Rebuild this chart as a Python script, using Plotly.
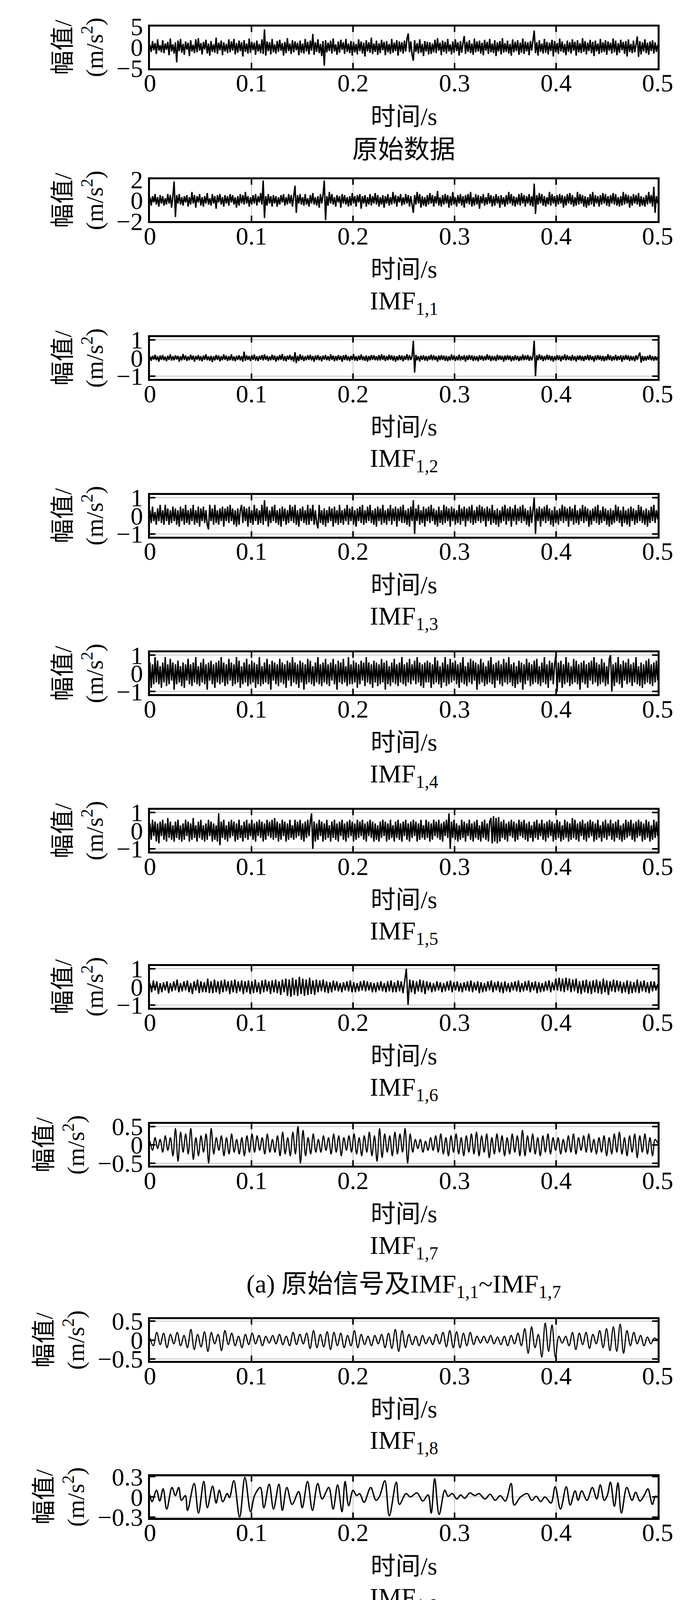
import numpy as np
import plotly.graph_objects as go

# ---------------- data ----------------
# dense signals: samples spread evenly over 0-0.5 s
raw_signal = [
    0.6, -1.1, 1.5, -0.7, 1.0, -1.6, 1.9, -0.8, 0.5, -1.2, 1.7, -1.4, 0.9, -0.6, 1.3, -1.9, 2.1, -1.0, 0.7, -1.5,
    1.2, -3.6, 1.6, -0.9, 2.0, -1.3, 0.8, -1.8, 1.4, -0.6, 1.1, -2.1, 1.7, -1.0, 0.6, -1.4, 1.9, -1.2, 2.2, -0.8,
    1.0, -1.7, 1.3, -0.5, 1.8, -1.5, 0.9, -2.0, 1.5, -1.1, 0.7, -1.3, 2.3, -1.6, 1.1, -0.7, 1.6, -1.9, 1.2, -1.0,
    0.8, -1.4, 1.9, -1.2, 1.4, -0.8, 2.0, -1.7, 1.0, -1.3, 1.6, -0.9, 1.2, -2.2, 1.7, -1.1, 0.9, -1.5, 2.1, -1.3,
    1.3, -0.7, 1.1, -1.8, 1.6, -1.0, 0.8, -1.4, 1.9, -1.6, 4.3, -2.0, 1.4, -0.9, 1.2, -1.7, 2.0, -1.2, 0.7, -1.5,
    1.5, -1.1, 1.8, -0.8, 1.0, -2.0, 1.3, -1.4, 2.2, -0.9, 0.9, -1.6, 1.7, -1.2, 1.4, -0.7, 1.1, -1.9, 1.6, -1.3,
    0.9, -1.5, 2.0, -1.0, 1.3, -1.7, 1.6, -0.8, 3.2, -1.8, 1.2, -1.1, 1.9, -1.4, 0.8, -2.1, 1.5, -4.4, 1.7, -1.2,
    1.1, -0.9, 1.6, -1.5, 2.1, -1.0, 0.7, -1.8, 1.4, -1.3, 1.8, -0.6, 1.2, -1.6, 2.0, -1.1, 0.9, -1.4, 1.5, -2.0,
    1.3, -1.2, 0.8, -1.7, 1.9, -0.9, 1.4, -1.5, 1.1, -2.2, 1.7, -1.0, 1.2, -1.3, 2.3, -1.6, 0.9, -1.1, 1.6, -1.8,
    1.0, -1.4, 1.8, -0.7, 1.3, -1.9, 1.5, -1.2, 0.8, -1.6, 2.0, -1.3, 1.1, -0.9, 1.7, -2.0, 1.4, -1.1, 1.2, -1.5,
    1.6, -1.0, 2.1, 3.3, -1.2, 1.4, -1.8, -3.2, 1.7, -1.1, 1.0, -1.5, 1.9, -1.3, 0.8, -2.1, 1.5, -1.0, 1.3, -1.7,
    1.2, -1.6, 0.9, -1.2, 1.8, -1.4, 2.2, -0.8, 1.1, -1.9, 1.6, -1.1, 1.3, -1.5, 2.0, -1.0, 0.7, -1.7, 1.4, -1.3,
    1.9, -0.9, 1.2, -2.0, 1.5, -1.3, 1.0, 2.7, -1.6, 1.3, -1.1, 1.7, -1.4, 0.9, -1.8, 2.1, -1.2, 1.4, -1.0, 1.6,
    -1.5, 1.1, -1.9, 1.8, -0.8, 1.3, -1.6, 2.0, -1.2, 0.9, -1.4, 1.7, -2.1, 1.2, -1.0, 1.5, -1.7, 2.2, -1.3, 1.0,
    -1.1, 1.6, -1.5, 0.8, -2.0, 1.9, -1.2, 1.3, -0.9, 1.7, -1.8, 1.1, -1.3, 2.1, -1.6, 1.4, -1.0, 1.2, -1.9, 1.5,
    -0.8, 1.6, 4.0, -1.4, 1.2, -2.0, 1.7, -1.1, 0.9, -1.5, 2.0, -1.3, 1.3, -1.7, 1.1, -0.9, 1.8, -2.2, 1.5, -1.2,
    1.0, -1.6, 2.1, -1.0, 1.4, -1.3, 0.8, -1.9, 1.6, -1.1, 1.2, -1.5, 1.9, -0.8, 1.3, -2.0, 1.7, -1.2, 1.0, -1.4,
    2.2, -1.1, 1.5, -1.7, 1.1, -0.9, 1.8, -1.4, 1.3, -2.1, 1.6, -1.0, 0.9, -1.6, 2.0, -1.3, 1.2, -1.1, 1.7, -1.8,
    1.4, -0.8, 1.1, -1.5, 2.1, -1.2, 1.6, -1.9, 1.0, -1.3, 1.8, -0.7, 1.3, -1.6, 1.5, -2.2, 1.9, -1.1, 0.8, -1.4,
    1.6, -1.2, 1.0, 2.6, -2.3, 1.5, -1.7, 1.2, -1.0, 1.9, -1.4, 1.1, -1.8, 1.4, -0.9, 1.7, -1.5, 1.2, -1.1, 0.6,
]

imf1_1 = [
    0.3, -0.5, 0.4, -0.2, 0.6, -0.4, 0.3, -0.6, 0.5, -0.3, 0.4, -0.5, 0.2, -0.4, 0.6, -0.3, 0.5, -0.7, 0.4, 1.8,
    -1.6, 0.5, -0.3, 0.6, -0.4, 0.3, -0.5, 0.4, -0.2, 0.5, -0.6, 0.3, -0.4, 0.8, -0.3, 0.5, -0.7, 0.4, -0.2, 0.6,
    -0.5, 0.3, -0.6, 0.4, -0.3, 0.7, -0.4, 0.2, -0.5, 0.6, -0.3, 0.4, -0.8, 0.5, -0.2, 0.6, -0.4, 0.3, -0.6, 0.5,
    -0.3, 0.4, -0.5, 0.6, -0.2, 0.5, -0.4, 0.3, -0.7, 0.4, -0.5, 0.6, -0.3, 0.5, -0.4, 0.8, -0.3, 0.4, -0.6, 0.3,
    -0.4, 0.5, -0.3, 0.6, -0.5, 0.4, -0.2, 0.7, -0.4, 1.9, -1.7, 0.4, -0.5, 0.6, -0.3, 0.4, -0.6, 0.5, -0.3, 0.4,
    -0.6, 0.3, -0.4, 0.5, -0.2, 0.6, -0.5, 0.3, -0.4, 0.6, -0.3, 0.5, -0.6, 0.4, 1.4, -1.2, 0.5, -0.3, 0.6, -0.4,
    0.3, -0.5, 0.6, -0.4, 0.2, -0.6, 0.5, -0.3, 0.7, -0.4, 0.3, -0.5, 0.4, -0.7, 0.6, -0.3, 0.5, 1.9, -1.9, 0.4,
    -0.5, 0.8, -0.3, 0.6, -0.4, 0.3, -0.6, 0.5, -0.2, 0.4, -0.7, 0.6, -0.3, 0.5, -0.4, 0.3, -0.6, 0.4, -0.5, 0.7,
    -0.3, 0.4, -0.6, 0.5, -0.2, 0.6, -0.8, 0.4, -0.3, 0.5, -0.6, 0.3, -0.4, 0.6, -0.5, 0.4, -0.3, 0.7, -0.4, 0.5,
    -0.6, 0.3, -0.4, 0.5, -0.7, 0.4, -0.3, 0.6, -0.5, 0.3, -0.4, 0.8, -0.3, 0.5, -0.6, 0.4, -0.2, 0.6, -0.5, 0.3,
    -0.4, 0.6, -0.3, 0.5, -0.6, 0.4, -0.5, -1.2, 0.5, -0.4, 0.8, -0.3, 0.6, -0.7, 0.4, -0.5, 0.3, -0.6, 0.5, -0.4,
    0.7, -0.3, 0.5, -0.6, 0.4, -0.3, 0.9, -0.5, 0.3, -0.6, 0.5, -0.4, 0.6, -0.3, 0.5, -0.7, 0.4, -0.5, 0.8, -0.4,
    0.3, -0.6, 0.5, -0.3, 0.6, -0.5, 0.4, -0.7, 0.5, -0.3, 0.6, -0.4, 0.8, -0.6, 0.3, -0.5, 0.6, -0.4, 0.5, -0.8,
    0.4, -0.3, 0.6, -0.5, 0.3, -0.4, 0.7, -0.3, 0.5, -0.6, 0.4, -0.5, 0.6, -0.3, 0.4, -0.7, 0.5, -0.4, 0.3, -0.6,
    0.5, -0.4, 0.8, -0.3, 0.6, -0.5, 0.4, -0.6, 0.3, -0.4, 0.6, -0.5, 0.7, -0.3, 0.5, -0.6, 0.4, -0.3, 0.6, -0.5,
    0.4, -0.6, 1.6, -1.3, 0.5, -0.4, 0.7, -0.3, 0.6, -0.5, 0.4, -0.6, 0.3, -0.4, 0.8, -0.5, 0.6, -0.3, 0.4, -0.6,
    0.5, -0.4, 0.6, -0.3, 0.5, -0.7, 0.4, -0.5, 0.6, -0.3, 0.7, -0.4, 0.5, -0.6, 0.3, -0.5, 0.8, -0.4, 0.6, -0.3,
    0.5, -0.6, 0.4, -0.7, 0.3, -0.5, 0.6, -0.4, 0.8, -0.6, 0.5, -0.3, 0.4, -0.6, 0.5, -0.4, 0.7, -0.3, 0.6, -0.5,
    0.4, -0.6, 0.5, -0.3, 0.7, -0.4, 0.6, -0.5, 0.3, -0.6, 0.4, -0.5, 0.8, -0.4, 0.6, -0.3, 0.5, -0.7, 0.4, -0.5,
    0.6, -0.3, 0.5, -0.4, 0.7, -0.6, 0.4, -0.5, 0.3, -0.6, 0.5, -0.4, 0.8, -0.3, 0.5, -0.6, 1.3, -1.2, 0.4, -0.3,
]

imf1_2 = [
    0.1, -0.15, 0.12, -0.08, 0.18, -0.12, 0.1, -0.2, 0.14, -0.1, 0.16, -0.12, 0.08, -0.18, 0.12, -0.1, 0.2, -0.14, 0.1, -0.12,
    0.15, -0.08, 0.12, -0.2, 0.1, -0.13, 0.22, -0.1, 0.14, -0.16, 0.09, -0.12, 0.18, -0.1, 0.13, -0.2, 0.11, -0.09, 0.16, -0.14,
    0.1, -0.18, 0.14, -0.1, 0.2, -0.12, 0.09, -0.15, 0.12, -0.22, 0.1, -0.13, 0.17, -0.1, 0.14, -0.18, 0.1, -0.12, 0.2, -0.1,
    0.13, -0.16, 0.1, -0.12, 0.2, -0.14, 0.09, -0.18, 0.12, -0.1, 0.15, -0.13, 0.1, -0.2, 0.35, -0.15, 0.14, -0.1, 0.11, -0.17,
    0.15, -0.1, 0.19, -0.14, 0.1, -0.17, 0.12, -0.09, 0.16, -0.13, 0.2, -0.1, 0.12, -0.16, 0.09, -0.12, 0.18, -0.11, 0.14, -0.2,
    0.1, -0.13, 0.16, -0.1, 0.22, -0.15, 0.11, -0.18, 0.13, -0.09, 0.17, -0.12, 0.1, -0.2, 0.32, -0.28, 0.12, -0.16, 0.2, -0.11,
    0.13, -0.17, 0.1, -0.12, 0.15, -0.1, 0.18, -0.13, 0.11, -0.2, 0.14, -0.1, 0.16, -0.12, 0.1, -0.18, 0.13, -0.09, 0.17, -0.12,
    0.1, -0.15, 0.2, -0.1, 0.13, -0.18, 0.11, -0.14, 0.16, -0.1, 0.12, -0.2, 0.15, -0.11, 0.18, -0.13, 0.1, -0.16, 0.12, -0.1,
    0.22, -0.14, 0.1, -0.17, 0.13, -0.11, 0.19, -0.12, 0.1, -0.15, 0.14, -0.2, 0.11, -0.13, 0.17, -0.1, 0.15, -0.12, 0.1, -0.14,
    0.16, -0.13, 0.2, -0.1, 0.14, -0.17, 0.11, -0.12, 0.18, -0.1, 0.15, -0.14, 0.12, -0.2, 0.1, -0.13, 0.16, -0.11, 0.14, -0.18,
    0.12, -0.1, 0.2, -0.13, 0.16, -0.11, 0.1, 0.95, -0.8, 0.17, -0.12, 0.1, -0.19, 0.13, -0.1, 0.15, -0.14, 0.11, -0.17, 0.12,
    -0.1, 0.18, -0.13, 0.15, -0.11, 0.1, -0.2, 0.14, -0.12, 0.16, -0.1, 0.13, -0.15, 0.12, -0.18, 0.1, -0.13, 0.2, -0.11, 0.14,
    -0.16, 0.1, -0.12, 0.18, -0.14, 0.11, -0.1, 0.15, -0.2, 0.13, -0.11, 0.17, -0.1, 0.14, -0.16, 0.12, -0.13, 0.1, -0.18, 0.15,
    -0.1, 0.13, -0.15, 0.11, -0.12, 0.2, -0.1, 0.14, -0.17, 0.12, -0.13, 0.1, -0.16, 0.18, -0.11, 0.14, -0.1, 0.12, -0.2, 0.13,
    -0.12, 0.16, -0.1, 0.13, -0.18, 0.1, -0.14, 0.15, -0.11, 0.12, -0.17, 0.1, -0.13, 0.19, -0.12, 0.14, -0.1, 0.16, -0.15, 0.11,
    -0.13, 0.1, 0.95, -1.0, 0.16, -0.12, 0.2, -0.1, 0.14, -0.17, 0.11, -0.12, 0.18, -0.1, 0.15, -0.14, 0.12, -0.2, 0.1, -0.13,
    0.16, -0.11, 0.14, -0.18, 0.12, -0.1, 0.2, -0.13, 0.16, -0.11, 0.1, -0.15, 0.17, -0.12, 0.1, -0.19, 0.13, -0.1, 0.15, -0.14,
    0.11, -0.17, 0.12, -0.1, 0.18, -0.13, 0.15, -0.11, 0.1, -0.2, 0.14, -0.12, 0.16, -0.1, 0.13, -0.15, 0.12, -0.18, 0.1, -0.13,
    0.2, -0.11, 0.14, -0.16, 0.1, -0.12, 0.18, -0.14, 0.11, -0.1, 0.15, -0.2, 0.13, -0.11, 0.17, -0.1, 0.14, -0.16, 0.12, -0.13,
    0.1, -0.18, 0.15, -0.1, 0.13, 0.3, -0.25, 0.12, -0.16, 0.1, -0.14, 0.12, -0.1, 0.17, -0.13, 0.11, -0.15, 0.1, -0.12, 0.08,
]

imf1_3 = [
    0.3, -0.4, 0.5, -0.3, 0.2, -0.5, 0.4, -0.3, 0.6, -0.4, 0.3, -0.5, 0.6, -0.3, 0.4, -0.5, 0.3, -0.4, 0.5, -0.3,
    0.4, -0.5, 0.3, -0.6, 0.5, -0.3, 0.4, -0.5, 0.6, -0.4, 0.3, -0.5, 0.4, -0.3, 0.6, -0.5, 0.3, -0.4, 0.5, -0.6,
    0.4, -0.3, 0.5, -0.4, 0.3, -0.5, -0.75, 0.6, -0.3, 0.4, -0.5, 0.6, -0.4, 0.3, -0.5, 0.4, -0.3, 0.5, -0.6, 0.4,
    -0.3, 0.5, -0.4, 0.6, -0.3, 0.4, -0.5, 0.3, -0.6, 0.4, -0.5, 0.3, 0.6, -0.4, 0.5, -0.3, 0.4, -0.6, 0.5, -0.4,
    0.3, -0.5, 0.6, -0.3, 0.4, -0.5, 0.3, -0.4, 0.6, -0.5, 0.85, -0.3, 0.5, -0.6, 0.3, -0.4, 0.5, -0.3, 0.6, -0.4,
    0.3, -0.5, 0.4, -0.6, 0.5, -0.3, 0.4, -0.5, 0.3, -0.4, 0.6, -0.3, 0.5, -0.4, 0.6, -0.5, 0.3, -0.6, 0.4, -0.3,
    0.5, -0.4, 0.3, -0.5, 0.6, -0.5, 0.4, -0.3, 0.6, -0.5, 0.3, -0.4, -0.7, 0.6, -0.4, 0.3, -0.5, 0.4, -0.6, 0.3,
    -0.4, 0.5, -0.3, 0.4, -0.6, 0.5, -0.4, 0.3, -0.5, 0.6, -0.4, 0.3, -0.5, 0.4, -0.3, 0.6, -0.5, 0.4, -0.3, 0.5,
    -0.5, 0.3, -0.6, 0.4, -0.3, 0.5, -0.4, 0.6, -0.5, 0.3, -0.4, 0.5, -0.3, 0.6, -0.4, 0.3, -0.5, 0.4, -0.6, 0.5,
    -0.3, 0.4, -0.5, 0.6, -0.4, 0.3, -0.5, 0.4, -0.3, 0.6, -0.5, 0.4, -0.3, 0.5, -0.6, 0.4, -0.3, 0.5, -0.4, 0.6,
    -0.4, 0.3, -0.5, 0.4, -0.6, 0.5, -0.3, 0.85, -1.0, 0.4, -0.3, 0.6, -0.5, 0.3, -0.4, 0.5, -0.6, 0.4, -0.3, 0.5,
    -0.4, 0.6, -0.3, 0.4, -0.5, 0.3, -0.6, 0.5, -0.4, 0.3, -0.5, 0.6, -0.4, 0.5, -0.3, 0.4, -0.6, 0.5, -0.3, 0.4,
    -0.5, 0.3, -0.4, 0.6, -0.5, 0.4, -0.3, 0.5, -0.6, 0.4, -0.3, 0.5, -0.4, 0.6, -0.5, 0.3, -0.4, 0.5, -0.3, 0.6,
    -0.4, 0.5, -0.3, 0.4, -0.6, 0.5, -0.3, 0.4, -0.5, 0.6, -0.4, 0.3, -0.5, 0.4, -0.6, 0.3, -0.4, 0.5, -0.3, 0.6,
    -0.5, 0.4, -0.3, 0.5, -0.6, 0.4, -0.3, 0.6, -0.5, 0.4, -0.3, 0.5, -0.4, 0.6, -0.3, 0.4, -0.5, 0.3, -0.6, 0.5,
    -0.4, 0.3, 1.0, -1.0, 0.4, -0.3, 0.5, -0.6, 0.4, -0.3, 0.5, -0.4, 0.6, -0.3, 0.4, -0.5, 0.3, -0.6, 0.5, -0.4,
    0.3, -0.5, 0.4, -0.3, 0.6, -0.4, 0.5, -0.3, 0.4, -0.6, 0.5, -0.3, 0.4, -0.5, 0.6, -0.4, 0.3, -0.5, 0.4, -0.3,
    0.6, -0.4, 0.5, -0.3, 0.4, -0.6, 0.3, -0.5, 0.4, -0.3, 0.5, -0.4, 0.6, -0.5, 0.3, -0.4, 0.5, -0.3, 0.4, -0.5,
    0.3, -0.6, 0.4, -0.5, 0.3, -0.4, 0.6, -0.3, 0.5, -0.4, 0.3, -0.6, 0.5, -0.4, 0.3, -0.5, 0.4, -0.6, 0.5, -0.3,
    0.4, -0.5, 0.3, -0.4, 0.6, -0.3, 0.5, -0.4, 0.3, -0.5, 0.4, -0.6, 0.3, -0.4, 0.5, -0.3, 0.6, -0.4, 0.3, -0.2,
]

imf1_4 = [
    0.6, -0.8, 0.5, -0.6, 0.9, -0.5, 0.7, -0.6, 0.4, -0.8, 0.6, -0.5, 0.9, -0.7, 0.5, -0.6, 0.8, -0.4, 0.6, -0.9,
    0.5, -0.6, 0.7, -0.5, 0.4, -0.7, 0.6, -0.8, 0.5, -0.4, 0.8, -0.6, 0.5, -0.7, 0.6, -0.5, 0.9, -0.6, 0.4, -0.7,
    0.6, -0.5, 0.8, -0.6, 0.5, -0.9, 0.6, -0.4, 0.7, -0.6, 0.5, -0.8, 0.6, -0.5, 0.7, -0.6, 0.9, -0.5, 0.6, -0.7,
    0.5, -0.6, 0.8, -0.4, 0.6, -0.7, 0.5, -0.6, 0.9, -0.5, 0.7, -0.8, 0.4, -0.6, 0.6, -0.5, 0.8, -0.7, 0.5, -0.6,
    0.7, -0.5, 0.6, -0.8, 0.5, -0.6, 0.9, -0.7, 0.4, -0.6, 0.6, -0.5, 0.8, -0.6, 0.5, -0.9, 0.7, -0.4, 0.6, -0.6,
    0.5, -0.7, 0.8, -0.5, 0.6, -0.6, 0.5, -0.8, 0.7, -0.4, 0.6, -0.7, 0.9, -0.5, 0.6, -0.6, 0.5, -0.8, 0.7, -0.5,
    0.6, -0.9, 0.5, -0.6, 0.8, -0.5, 0.7, -0.6, 0.4, -0.7, 0.6, -0.5, 0.9, -0.6, 0.5, -0.7, 0.6, -0.5, 0.8, -0.6,
    0.5, -0.7, 0.6, -0.4, 0.8, -0.6, 0.5, -0.9, 0.7, -0.5, 0.6, -0.6, 0.8, -0.5, 0.4, -0.7, 0.9, -0.6, 0.5, -0.6,
    0.7, -0.5, 0.6, -0.8, 0.5, -0.6, 0.7, -0.4, 0.6, -0.7, 0.9, -0.5, 0.6, -0.6, 0.5, -0.8, 0.7, -0.5, 0.6, -0.7,
    0.5, -0.6, 0.8, -0.5, 0.6, -0.9, 0.7, -0.6, 0.4, -0.7, 0.6, -0.5, 0.8, -0.6, 0.5, -0.7, 0.6, -0.5, 0.9, -0.6,
    0.5, -0.7, 0.6, -0.5, 0.8, -0.6, 0.5, -0.4, 0.7, -0.6, 0.9, -0.5, 0.6, -0.7, 0.5, -0.8, 0.6, -0.5, 0.7, -0.5,
    0.6, -0.8, 0.5, -0.6, 0.9, -0.5, 0.7, -0.6, 0.4, -0.8, 0.6, -0.5, 0.9, -0.7, 0.5, -0.6, 0.8, -0.5, 0.6, -0.4,
    0.7, -0.6, 0.5, -0.8, 0.6, -0.5, 0.9, -0.6, 0.4, -0.7, 0.6, -0.5, 0.8, -0.6, 0.7, -0.4, 0.6, -0.9, 0.5, -0.6,
    0.8, -0.5, 0.6, -0.7, 0.4, -0.6, 0.7, -0.5, 0.9, -0.6, 0.5, -0.8, 0.6, -0.4, 0.7, -0.6, 0.5, -0.7, 0.8, -0.5,
    0.6, -0.6, 0.9, -0.5, 0.5, -0.7, 0.6, -0.8, 0.4, -0.6, 0.7, -0.5, 0.6, -0.9, 0.5, -0.6, 0.8, -0.4, 0.6, -0.7,
    0.5, -0.6, 0.7, -0.5, 0.8, -0.6, 0.4, -0.7, 0.6, -0.5, 0.9, -0.6, 0.5, -0.8, 0.7, -0.4, 0.6, -0.6, 0.5, 1.0,
    -1.0, 0.6, -0.5, 0.7, -0.8, 0.5, -0.6, 0.9, -0.5, 0.6, -0.7, 0.4, -0.6, 0.8, -0.5, 0.7, -0.6, 0.5, -0.9, 0.6,
    -0.5, 0.7, -0.6, 0.5, -0.8, 0.6, -0.4, 0.7, -0.6, 0.9, -0.5, 0.6, -0.7, 0.5, -0.6, 0.8, -0.5, 0.6, -0.7, 0.4,
    -0.6, 0.8, 1.0, -1.0, 0.5, -0.7, 0.6, -0.5, 0.9, -0.6, 0.5, -0.8, 0.7, -0.4, 0.6, -0.6, 0.8, -0.5, 0.5, -0.7,
    0.6, -0.5, 0.9, -0.6, 0.4, -0.7, 0.6, -0.8, 0.5, -0.6, 0.7, -0.5, 0.8, -0.6, 0.5, -0.7, 0.6, -0.5, 0.7, -0.4,
]

imf1_5 = [
    0.4, -0.5, 0.6, -0.3, 0.5, -0.6, 0.4, -0.7, 0.5, -0.3, 0.6, -0.5, 0.4, -0.6, 0.7, -0.4, 0.5, -0.5, 0.3, -0.6,
    0.5, -0.4, 0.6, -0.5, 0.3, -0.6, 0.4, -0.5, 0.6, -0.3, 0.5, -0.6, 0.4, -0.5, 0.7, -0.4, 0.3, -0.6, 0.5, -0.4,
    0.6, -0.5, 0.3, -0.6, 0.4, -0.5, 0.6, -0.3, 0.5, -0.6, 0.4, -0.5, 0.3, -0.6, 0.95, -0.8, 0.5, -0.4, 0.6, -0.5,
    0.3, -0.6, 0.5, -0.4, 0.6, -0.3, 0.5, -0.6, 0.4, -0.5, 0.6, -0.4, 0.3, -0.6, 0.5, -0.4, 0.6, -0.5, 0.4, -0.3,
    0.6, -0.5, 0.4, -0.6, 0.5, -0.3, 0.6, -0.4, 0.5, -0.6, 0.4, -0.5, 0.6, -0.3, 0.5, -0.4, 0.6, -0.5, 0.7, -0.4,
    0.5, -0.6, 0.4, -0.5, 0.6, -0.3, 0.5, -0.6, 0.4, -0.5, 0.6, -0.4, 0.3, -0.5, 0.6, -0.4, 0.5, -0.3, 0.6, -0.5,
    0.4, -0.6, 0.5, -0.4, 0.6, -0.3, 0.5, 0.95, -1.0, 0.5, -0.6, 0.4, -0.5, 0.6, -0.3, 0.5, -0.6, 0.4, -0.5, 0.6,
    -0.4, 0.3, -0.6, 0.5, -0.4, 0.6, -0.5, 0.4, -0.6, 0.5, -0.3, 0.6, -0.5, 0.4, -0.6, 0.5, -0.4, 0.6, -0.3, 0.5,
    -0.6, 0.4, -0.5, 0.6, -0.4, 0.5, -0.3, 0.6, -0.5, 0.4, -0.6, 0.5, -0.3, 0.6, -0.4, 0.5, -0.6, 0.4, -0.5, 0.3,
    -0.6, 0.5, -0.4, 0.6, -0.3, 0.5, -0.6, 0.4, -0.5, 0.6, -0.4, 0.3, -0.6, 0.5, -0.4, 0.6, -0.5, 0.4, -0.6, 0.5,
    -0.3, 0.6, -0.5, 0.4, -0.6, 0.5, -0.4, 0.6, -0.3, 0.5, -0.6, 0.4, -0.5, 0.6, -0.4, 0.3, -0.5, 0.6, -0.4, 0.5,
    -0.6, 0.4, -0.5, 0.6, -0.3, 0.5, -0.4, 0.6, -0.5, 0.4, -0.6, 0.5, -0.3, 0.6, -0.4, 0.95, -1.0, 0.5, -0.4, 0.6,
    -0.5, 0.4, -0.6, 0.3, -0.5, 0.6, -0.4, 0.5, -0.6, 0.4, -0.3, 0.6, -0.5, 0.4, -0.6, 0.5, -0.4, 0.6, -0.5, 0.3,
    -0.6, 0.5, -0.4, 0.6, -0.5, 0.4, -0.6, 0.5, 0.7, -0.7, 0.8, -0.6, 0.7, -0.7, 0.75, -0.6, 0.5, -0.4, 0.6, -0.5,
    0.4, -0.6, 0.5, -0.3, 0.6, -0.4, 0.5, -0.6, 0.4, -0.5, 0.6, -0.3, 0.5, -0.4, 0.6, -0.5, 0.4, -0.6, 0.5, -0.4,
    0.3, -0.6, 0.5, -0.4, 0.6, -0.5, 0.4, -0.3, 0.6, -0.5, 0.4, -0.6, 0.5, -0.4, 0.6, -0.3, 0.5, -0.6, 0.4, -0.5,
    0.6, -0.4, 0.5, -0.6, 0.3, -0.5, 0.6, -0.4, 0.5, -0.6, 0.4, -0.5, 0.7, -0.4, 0.6, -0.5, 0.4, -0.6, 0.5, -0.3,
    0.6, -0.5, 0.4, -0.6, 0.5, -0.4, 0.6, -0.3, 0.5, -0.6, 0.4, -0.5, 0.6, -0.4, 0.3, -0.6, 0.5, -0.4, 0.6, -0.5,
    0.4, -0.3, 0.6, -0.5, 0.4, -0.6, 0.5, -0.4, 0.6, -0.5, 0.3, -0.6, 0.4, -0.5, 0.6, -0.4, 0.5, -0.3, 0.6, -0.5,
    0.4, -0.6, 0.5, -0.4, 0.6, -0.3, 0.5, -0.6, 0.4, -0.5, 0.6, -0.4, 0.5, -0.6, 0.3, -0.5, 0.6, -0.4, 0.5, -0.3,
]

imf1_6 = [
    0.2, -0.3, 0.35, -0.2, 0.3, -0.4, 0.2, -0.3, 0.25, -0.2, 0.3, -0.35, 0.2, -0.25, 0.3, -0.2, 0.4, -0.3, 0.2, -0.25,
    0.3, -0.2, 0.35, -0.3, 0.2, -0.4, 0.3, -0.2, 0.4, -0.35, 0.3, -0.3, 0.25, -0.3, 0.45, -0.35, 0.3, -0.35, 0.4, -0.3,
    0.3, -0.4, 0.35, -0.3, 0.4, -0.25, 0.3, -0.4, 0.35, -0.3, 0.4, -0.35, 0.3, -0.25, 0.35, -0.4, 0.3, -0.3, 0.35, -0.4,
    0.3, -0.35, 0.4, -0.3, 0.25, -0.4, 0.35, -0.3, 0.4, -0.25, 0.3, -0.4, 0.35, -0.3, 0.4, -0.35, 0.3, -0.45, 0.4, -0.3,
    0.45, -0.5, 0.4, -0.55, 0.5, -0.45, 0.4, -0.5, 0.55, -0.4, 0.45, -0.5, 0.4, -0.45, 0.5, -0.4, 0.35, -0.45, 0.4, -0.3,
    0.35, -0.25, 0.4, -0.3, 0.3, -0.35, 0.25, -0.3, 0.35, -0.2, 0.3, -0.25, 0.2, -0.3, 0.25, -0.2, 0.3, -0.25, 0.35, -0.3,
    0.25, -0.3, 0.2, -0.25, 0.3, -0.2, 0.35, -0.25, 0.3, -0.2, 0.25, -0.3, 0.2, -0.3, 0.25, -0.2, 0.3, -0.25, 0.2, -0.3,
    0.3, -0.25, 0.35, -0.3, 0.25, -0.3, 0.35, -0.25, 0.3, -0.35, 0.3, 1.0, -1.0, 0.4, -0.3, 0.35, -0.4, 0.3, -0.25, 0.4,
    -0.3, 0.35, -0.4, 0.3, -0.2, 0.25, -0.3, 0.2, -0.25, 0.3, -0.2, 0.25, -0.3, 0.2, -0.25, 0.3, -0.2, 0.35, -0.3, 0.25,
    -0.2, 0.3, -0.25, 0.2, -0.3, 0.25, -0.2, 0.3, -0.25, 0.35, -0.3, 0.25, -0.2, 0.3, -0.35, 0.25, -0.3, 0.2, -0.25, 0.3,
    -0.2, 0.35, -0.3, 0.25, -0.2, 0.3, -0.3, 0.25, -0.35, 0.3, -0.25, 0.2, -0.3, 0.25, -0.2, 0.3, -0.25, 0.35, -0.3, 0.2,
    -0.25, 0.3, -0.2, 0.35, -0.3, 0.25, -0.2, 0.3, -0.35, 0.25, -0.3, 0.2, -0.25, 0.3, -0.2, 0.35, -0.3, 0.25, -0.2, 0.45,
    -0.2, 0.5, -0.25, 0.45, -0.3, 0.5, -0.2, 0.45, -0.3, 0.4, -0.25, 0.45, -0.35, 0.3, -0.4, 0.35, -0.3, 0.4, -0.35, 0.3,
    -0.4, 0.35, -0.3, 0.4, -0.35, 0.3, -0.4, 0.45, -0.3, 0.35, -0.45, 0.3, -0.25, 0.4, -0.3, 0.35, -0.25, 0.3, -0.35, 0.25,
    -0.3, 0.35, -0.4, 0.3, -0.35, 0.25, -0.3, 0.4, -0.35, 0.3, -0.25, 0.35, -0.3, 0.25, -0.35, 0.3, -0.25, 0.3, -0.2, 0.15,
]

imf1_7 = [
    0.1, -0.15, 0.2, -0.1, 0.15, -0.2, 0.25, -0.15, 0.2, -0.3, 0.45, -0.45, 0.35, -0.2, 0.3, -0.25, 0.45, -0.4, 0.2, -0.3,
    0.25, -0.2, 0.3, -0.5, 0.45, -0.25, 0.2, -0.15, 0.25, -0.3, 0.2, -0.25, 0.3, -0.2, 0.15, -0.25, 0.2, -0.3, 0.25, -0.2,
    0.3, -0.2, 0.25, -0.15, 0.2, -0.25, 0.3, -0.2, 0.15, -0.2, 0.25, -0.3, 0.35, -0.25, 0.2, -0.3, 0.35, -0.25, 0.5, -0.5,
    0.4, -0.3, 0.2, -0.25, 0.3, -0.2, 0.15, -0.2, 0.25, -0.15, 0.2, -0.25, 0.3, -0.2, 0.25, -0.3, 0.2, -0.15, 0.25, -0.2,
    0.3, -0.25, 0.2, -0.3, 0.25, -0.2, 0.35, -0.3, 0.25, -0.45, 0.45, -0.35, 0.3, -0.2, 0.25, -0.3, 0.35, -0.25, 0.3, -0.2,
    0.45, -0.5, 0.3, -0.2, 0.15, -0.1, 0.15, -0.2, 0.1, -0.15, 0.2, -0.15, 0.25, -0.2, 0.3, -0.25, 0.2, -0.3, 0.25, -0.2,
    0.3, -0.25, 0.2, -0.3, 0.25, -0.2, 0.3, -0.25, 0.35, -0.3, 0.25, -0.2, 0.3, -0.35, 0.2, -0.25, 0.3, -0.2, 0.25, -0.3,
    0.2, -0.25, 0.3, -0.2, 0.25, -0.3, 0.4, -0.3, 0.25, -0.2, 0.3, -0.25, 0.2, -0.3, 0.25, -0.2, 0.3, -0.25, 0.2, -0.15,
    0.2, -0.25, 0.15, -0.2, 0.25, -0.2, 0.3, -0.25, 0.2, -0.15, 0.25, -0.2, 0.3, -0.2, 0.15, -0.25, 0.2, -0.2, 0.25, -0.3,
    0.2, -0.25, 0.3, -0.2, 0.35, -0.25, 0.2, -0.3, 0.25, -0.2, 0.3, -0.35, 0.25, -0.2, 0.3, -0.25, 0.2, -0.3, 0.15, 0.05,
]

imf1_8 = [
    0.05, -0.15, 0.2, -0.12, 0.18, -0.2, 0.15, -0.1, 0.2, -0.15, 0.12, -0.2, 0.28, -0.25, 0.15, -0.18, 0.22, -0.3, 0.2, -0.1,
    0.15, -0.28, 0.25, -0.12, 0.18, -0.15, 0.1, -0.2, 0.15, -0.12,
    0.18, -0.1, 0.12, -0.15, 0.1, -0.08, 0.12, -0.1, 0.15, -0.12, 0.1, -0.15, 0.2, -0.12, 0.15, -0.1, 0.18, -0.22, 0.25, -0.2,
    0.15, -0.18, 0.22, -0.25, 0.2, -0.15, 0.18, -0.2, 0.12, -0.15,
    0.25, -0.2, 0.15, -0.12, 0.1, -0.15, 0.12, -0.1, 0.15, -0.2, 0.18, -0.22, 0.28, -0.3, 0.25, -0.2, 0.15, -0.12, 0.1, -0.15,
    0.12, -0.1, 0.08, -0.12, 0.15, -0.1, 0.2, -0.18, 0.25, -0.2,
    0.22, -0.2, 0.18, -0.15, 0.2, -0.12, 0.1, -0.08, 0.1, -0.08, 0.12, -0.1, 0.08, -0.12, 0.1, -0.15, 0.12, -0.1, 0.18, -0.15,
    0.3, -0.35, 0.35, -0.2, 0.15, -0.45, 0.45, -0.3, 0.4, -0.46,
    0.1, -0.08, 0.1, -0.15, 0.2, -0.25, 0.18, -0.12, 0.2, -0.22, 0.15, -0.1, 0.25, -0.2, 0.3, -0.28, 0.35, -0.3, 0.42, -0.35,
    0.25, -0.15, 0.2, -0.1, 0.12, -0.15, 0.08, -0.1, 0.05, 0.0,
]

# smoother components: times and values of the turning points
imf1_9_t = [
    0, .002, .0065, .0096, .013, .0165, .0217, .025, .0283, .031, .0348, .037, .0435, .0478, .053, .0565, .0617,
    .0652, .0683, .0717, .0761, .0783, .0826, .0883, .0935, .0991, .103, .1087, .1122, .1174, .1217, .127, .1304,
    .1348, .14, .1465, .15, .1552, .16, .1652, .1696, .1761, .1804, .1848, .1891, .1922, .1957, .2, .2035, .2065,
    .2109, .2174, .2226, .2261, .2313, .2357, .2426, .2457, .2522, .2565, .263, .2687, .2739, .277, .2804, .2848,
    .2904, .2935, .2978, .3022, .306, .31, .315, .32, .324, .33, .335, .34, .345, .35, .3557, .3587, .365, .3717,
    .376, .3804, .3848, .389, .395, .3991, .4043, .41, .4139, .4187, .4217, .4252, .4304, .4357, .44, .4435, .4474,
    .4504, .4535, .4574, .4609, .4643, .4696, .4748, .4783, .4826, .487, .4904, .4948, .4978, .5,
]
imf1_9 = [
    0.03, -0.07, 0.1, -0.06, 0.12, -0.18, 0.14, 0.02, 0.14, -0.05, 0.02, -0.2, 0.2, -0.24, 0.23, -0.16, 0.16,
    -0.09, 0.1, -0.07, 0.05, -0.01, 0.24, -0.3, 0.29, -0.22, 0.02, 0.14, -0.16, 0.19, -0.18, 0.19, -0.2,
    0.14, -0.11, 0.08, -0.16, 0.23, -0.2, 0.2, -0.03, 0.14, -0.18, 0.18, -0.22, 0.23, -0.13, 0.1, 0.02, 0.05,
    -0.08, 0.14, -0.05, 0.01, 0.24, -0.28, 0.22, -0.11, 0.05, 0.0, 0.06, -0.06, 0.03, -0.24, 0.27, -0.26,
    0.1, 0.01, 0.05, -0.03, 0.03, -0.02, 0.06, 0.02, 0.05, -0.03, 0.04, -0.05, 0.02, -0.06, 0.2, -0.12, 0.0, 0.05,
    -0.05, 0.01, -0.07, 0.0, -0.09, 0.15, -0.18, 0.15, -0.12, 0.09, -0.05, 0.09, -0.05, 0.14, -0.03, 0.18, -0.05,
    0.02, 0.22, -0.14, 0.21, -0.24, 0.14, -0.05, 0.07, -0.06, 0.03, 0.12, -0.11, 0.01, 0.0,
]

imf1_10_t = [
    0, .0065, .013, .0209, .0283, .0361, .0422, .05, .0565, .0652, .0717, .0813, .0891, .0957, .1022, .1109, .1152,
    .1226, .137, .147, .1609, .1717, .1817, .1904, .1978, .2052, .2122, .2196, .2261, .2348, .2457, .25, .2574,
    .2652, .2717, .2791, .287, .2957, .303, .318, .328, .332, .34, .355, .365, .374, .386, .398, .405, .415, .421,
    .429, .434, .446, .456, .465, .475, .482, .489, .496, .5,
]
imf1_10 = [
    -0.08, 0.08, -0.08, 0.07, -0.04, 0.03, -0.1, 0.1, -0.04, 0.07, -0.1, 0.1, -0.04, 0.0, -0.08, 0.07, 0.05,
    -0.11, 0.17, -0.22, 0.16, 0.11, -0.19, 0.17, -0.16, 0.1, -0.02, 0.01, -0.04, 0.02, 0.07, 0.02, -0.1,
    0.13, -0.14, 0.14, -0.16, 0.19, -0.18, 0.14, -0.05, 0.02, -0.13, 0.18, -0.2, 0.18, -0.11, 0.11, -0.04, 0.07, -0.07,
    0.07, 0.0, -0.04, 0.13, -0.14, 0.11, -0.08, 0.07, -0.1, -0.07,
]

imf1_11_t = [
    0, .0065, .0165, .0261, .0348, .0435, .0513, .0587, .0643, .0717, .0813, .0904, .1, .1087, .1174, .1283, .137,
    .15, .1587, .1696, .1791, .1891, .1957, .2022, .213, .2217, .2283, .2391, .2487, .2574, .263, .2704, .2791,
    .2878, .2957, .3057, .313, .3196, .3304, .3413, .3543, .3652, .3774, .39, .4, .413, .4217, .4339, .4435, .4535,
    .4696, .4848, .4957, .5,
]
imf1_11 = [
    0, 0, 0.03, -0.01, -0.035, -0.02, 0.07, -0.01, -0.085, 0.0, 0.08, 0.0, -0.1, 0.02, 0.1, 0.1, 0.03,
    -0.13, 0.02, 0.1, 0.05, 0.05, -0.01, -0.055, -0.065, 0.01, 0.06, 0.02, -0.02, 0.05, -0.02, -0.11, 0.02,
    0.15, -0.01, -0.15, -0.01, 0.06, 0.025, -0.035, 0.09, 0.02, -0.045, 0.05, -0.01, -0.025, -0.045, 0.05, 0.01, 0.05,
    -0.065, 0.06, -0.01, -0.04,
]

imf1_12_t = [
    0, .0087, .0283, .0391, .05, .0652, .0774, .087, .1, .113, .1261, .1383, .15, .1587, .1687, .1861, .2, .2165,
    .2304, .2391, .2513, .263, .273, .2904, .3, .3174, .3348, .3543, .3739, .3913, .413, .4348, .447, .4609,
    .4761, .4891, .5,
]
imf1_12 = [
    -0.004, 0.0, 0.022, -0.004, -0.03, -0.004, -0.013, -0.002, 0.04, 0.017, -0.001, -0.04, -0.004, 0.006, 0.003,
    0.032, 0.013, -0.023, -0.001, 0.006, 0.032, 0.01, -0.015, 0.036, 0.003, -0.088, 0.01, 0.104, 0.01, -0.103,
    -0.077, 0.025, 0.09, 0.025, -0.07, -0.033, 0.01,
]

imf1_13_t = [
    0, .0087, .0217, .0391, .0565, .0761, .0891, .1, .113, .1304, .1457, .1652, .1826, .1957, .2043, .2217, .237,
    .2522, .2696, .287, .3, .313, .3304, .3478, .363, .3739, .3913, .4087, .4261, .4435, .4609, .4783, .4913, .5,
]
imf1_13 = [
    0.029, 0.031, 0.019, 0.01, 0.024, 0.043, 0.039, 0.021, 0.004, -0.04, -0.067, -0.057, -0.043, -0.021, 0.007,
    0.05, 0.079, 0.05, -0.021, -0.071, -0.081, -0.064, -0.014, 0.043, 0.069, 0.064, 0.036, -0.021, -0.057, -0.067,
    -0.043, 0.0, 0.021, 0.031,
]

imf1_14_t = [0, .02, .052, .08, .1, .13, .15, .178, .2, .22, .238, .26, .28, .306, .33, .36, .38, .4, .43, .46, .48, .5]
imf1_14 = [0.021, 0.025, 0.029, 0.023, 0.0124, -0.002, -0.016, -0.032, -0.0276, -0.013, 0.0, 0.017, 0.028, 0.035,
           0.032, 0.021, 0.011, 0.0, -0.016, -0.027, -0.031, -0.033]

residual_t = [0, .05, .1, .15, .2, .21, .25, .3, .35, .4, .45, .5]
residual = [0.0384, 0.0303, 0.0209, 0.011, 0.0028, 0.0012, 0.005, 0.0144, 0.028, 0.0423, 0.052, 0.0564]

x_ticks = [0, 0.1, 0.2, 0.3, 0.4, 0.5]
x_tick_text = ["0", "0.1", "0.2", "0.3", "0.4", "0.5"]

# ---------------- panel definitions ----------------
panels = [
    ("原始数据", None, raw_signal, [-5, 5], [-5, 0, 5], ["−5", "0", "5"], False, 3.6),
    ("IMF<sub>1,1</sub>", None, imf1_1, [-2, 2], [-2, 0, 2], ["−2", "0", "2"], False, 3.6),
    ("IMF<sub>1,2</sub>", None, imf1_2, [-1.15, 1.15], [-1, 0, 1], ["−1", "0", "1"], False, 3.6),
    ("IMF<sub>1,3</sub>", None, imf1_3, [-1.15, 1.15], [-1, 0, 1], ["−1", "0", "1"], False, 3.6),
    ("IMF<sub>1,4</sub>", None, imf1_4, [-1.15, 1.15], [-1, 0, 1], ["−1", "0", "1"], False, 3.6),
    ("IMF<sub>1,5</sub>", None, imf1_5, [-1.15, 1.15], [-1, 0, 1], ["−1", "0", "1"], False, 3.6),
    ("IMF<sub>1,6</sub>", None, imf1_6, [-1.15, 1.15], [-1, 0, 1], ["−1", "0", "1"], False, 3.4),
    ("IMF<sub>1,7</sub>", None, imf1_7, [-0.57, 0.57], [-0.5, 0, 0.5], ["−0.5", "0", "0.5"], True, 3),
    ("IMF<sub>1,8</sub>", None, imf1_8, [-0.55, 0.55], [-0.5, 0, 0.5], ["−0.5", "0", "0.5"], True, 3),
    ("IMF<sub>1,9</sub>", imf1_9_t, imf1_9, [-0.31, 0.31], [-0.3, 0, 0.3], ["−0.3", "0", "0.3"], True, 3.5),
    ("IMF<sub>1,10</sub>", imf1_10_t, imf1_10, [-0.22, 0.22], [-0.2, 0, 0.2], ["−0.2", "0", "0.2"], True, 3.5),
    ("IMF<sub>1,11</sub>", imf1_11_t, imf1_11, [-0.22, 0.22], [-0.2, 0, 0.2], ["−0.2", "0", "0.2"], True, 3.5),
    ("IMF<sub>1,12</sub>", imf1_12_t, imf1_12, [-0.107, 0.107], [-0.1, 0, 0.1], ["−0.1", "0", "0.1"], True, 4),
    ("IMF<sub>1,13</sub>", imf1_13_t, imf1_13, [-0.105, 0.105], [-0.1, 0, 0.1], ["−0.1", "0", "0.1"], True, 4.5),
    ("IMF<sub>1,14</sub>", imf1_14_t, imf1_14, [-0.0414, 0.0497], [-0.04, 0, 0.04], ["−0.04", "0", "0.04"], True, 4.5),
    ("残差", residual_t, residual, [0.0008, 0.0572], [0.025, 0.05], ["0.025", "0.050"], True, 4.5),
]

# pixel layout of the page
W, H = 1772, 6678
X0, X1 = 384, 1684
BOX_H = 108
tops = [33, 429, 837, 1245, 1653, 2060, 2464, 2873, 3378, 3784, 4188, 4593, 5002, 5407, 5808, 6212]

FONT = "Liberation Serif, Noto Sans CJK SC"
axis_style = dict(
    showline=True, linewidth=5, linecolor="black", mirror="ticks",
    ticks="inside", ticklen=14, tickwidth=4, tickcolor="black",
    showgrid=True, gridcolor="#c4c4c4", gridwidth=2, zeroline=False,
    tickfont=dict(family=FONT, size=64, color="black"),
)


def py(px):
    return 1 - px / H


fig = go.Figure()
layout = {}
annotations = []
xc = 0.5

for i, (title, t, vals, yr, yt, ytt, smooth, lw) in enumerate(panels):
    n = i + 1
    sfx = "" if n == 1 else str(n)
    if t is None:
        t = np.linspace(0, 0.5, len(vals))
    fig.add_trace(go.Scatter(
        x=t, y=vals, mode="lines",
        line=dict(color="black", width=lw, shape="spline" if smooth else "linear"),
        xaxis="x" + sfx, yaxis="y" + sfx, showlegend=False, hoverinfo="skip",
    ))
    top = tops[i]
    layout["xaxis" + sfx] = dict(
        domain=[0, 1], range=[0, 0.5], tickvals=x_ticks, ticktext=x_tick_text,
        anchor="y" + sfx, ticklabelstandoff=-22, **axis_style,
    )
    layout["yaxis" + sfx] = dict(
        domain=[py(top + BOX_H), py(top)], range=yr, tickvals=yt, ticktext=ytt,
        anchor="x" + sfx,
        title=dict(text="幅值/<br>(m/s<sup>2</sup>)", font=dict(family=FONT, size=62, color="black"), standoff=16),
        **axis_style,
    )
    annotations.append(dict(
        text="时间/s", x=xc, y=py(top + BOX_H + 125), xref="paper", yref="paper",
        showarrow=False, yanchor="middle", font=dict(family=FONT, size=64, color="black"),
    ))
    annotations.append(dict(
        text=title, x=xc, y=py(top + BOX_H + 210), xref="paper", yref="paper",
        showarrow=False, yanchor="middle", font=dict(family=FONT, size=66, color="black"),
    ))

annotations.append(dict(
    text="(a) 原始信号及IMF<sub>1,1</sub>~IMF<sub>1,7</sub>", x=xc, y=py(3292), xref="paper", yref="paper",
    showarrow=False, yanchor="middle", font=dict(family=FONT, size=66, color="black"),
))
annotations.append(dict(
    text="(b) IMF<sub>1,8</sub>~IMF<sub>1,14</sub>及残差", x=xc, y=py(6640), xref="paper", yref="paper",
    showarrow=False, yanchor="middle", font=dict(family=FONT, size=66, color="black"),
))

fig.update_layout(
    width=W, height=H,
    margin=dict(l=X0, r=W - X1, t=0, b=0),
    paper_bgcolor="white", plot_bgcolor="white",
    annotations=annotations,
    **layout,
)

fig.write_html("out.html", config={"displayModeBar": False},
               post_script="document.body.style.margin='0px';")
